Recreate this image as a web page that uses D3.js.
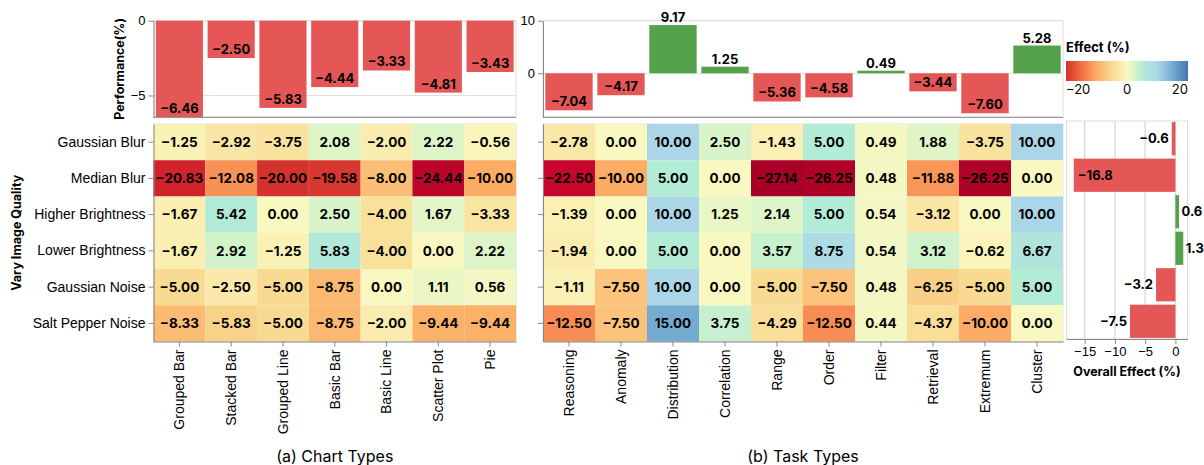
<!DOCTYPE html>
<html>
<head>
<meta charset="utf-8">
<script src="https://cdn.jsdelivr.net/npm/d3@7"></script>
<style>
  body { margin: 0; background: #fff; }
  svg { font-family: Inter, "Noto Sans", sans-serif; }
</style>
</head>
<body>
<svg id="chart" width="1204" height="465"></svg>
<script>
const chartTypes = ["Grouped Bar", "Stacked Bar", "Grouped Line", "Basic Bar", "Basic Line", "Scatter Plot", "Pie"];
const taskTypes = ["Reasoning", "Anomaly", "Distribution", "Correlation", "Range", "Order", "Filter", "Retrieval", "Extremum", "Cluster"];
const qualities = ["Gaussian Blur", "Median Blur", "Higher Brightness", "Lower Brightness", "Gaussian Noise", "Salt Pepper Noise"];

const chartPerf = [-6.46, -2.50, -5.83, -4.44, -3.33, -4.81, -3.43];
const taskPerf = [-7.04, -4.17, 9.17, 1.25, -5.36, -4.58, 0.49, -3.44, -7.60, 5.28];
const overallEffect = [-0.6, -16.8, 0.6, 1.3, -3.2, -7.5];

// rows = qualities, columns = chart types
const chartEffect = [
  [-1.25, -2.92, -3.75, 2.08, -2.00, 2.22, -0.56],
  [-20.83, -12.08, -20.00, -19.58, -8.00, -24.44, -10.00],
  [-1.67, 5.42, 0.00, 2.50, -4.00, 1.67, -3.33],
  [-1.67, 2.92, -1.25, 5.83, -4.00, 0.00, 2.22],
  [-5.00, -2.50, -5.00, -8.75, 0.00, 1.11, 0.56],
  [-8.33, -5.83, -5.00, -8.75, -2.00, -9.44, -9.44]
];
// rows = qualities, columns = task types
const taskEffect = [
  [-2.78, 0.00, 10.00, 2.50, -1.43, 5.00, 0.49, 1.88, -3.75, 10.00],
  [-22.50, -10.00, 5.00, 0.00, -27.14, -26.25, 0.48, -11.88, -26.25, 0.00],
  [-1.39, 0.00, 10.00, 1.25, 2.14, 5.00, 0.54, -3.12, 0.00, 10.00],
  [-1.94, 0.00, 5.00, 0.00, 3.57, 8.75, 0.54, 3.12, -0.62, 6.67],
  [-1.11, -7.50, 10.00, 0.00, -5.00, -7.50, 0.48, -6.25, -5.00, 5.00],
  [-12.50, -7.50, 15.00, 3.75, -4.29, -12.50, 0.44, -4.37, -10.00, 0.00]
];

const perfTicks = [-5, 0];
const taskTicks = [0, 10];
const overallTicks = [-15, -10, -5, 0];
const legendTicks = [-20, 0, 20];

const svg = d3.select("#chart");
const RED = "#e45756", GREEN = "#54a24b", GRID = "#ddd", AXIS = "#888";

const color = d3.scaleLinear()
  .domain([-27.5, -22.5, -20, -15, -10, -5, 0, 2.5, 5, 10, 15, 20, 25])
  .range(["#a50026", "#c8062b", "#d4322c", "#f16e43", "#fcac64", "#f9da92", "#faf8c1",
           "#d8f4c8", "#b3ecd6", "#abd6e8", "#75abd0", "#4a74b4", "#313695"])
  .clamp(true);

const f2 = d3.format(".2f"), f1 = d3.format(".1f");

const topY = [117.3, 20.7];
const heatY = [124, 341.5];

function styleAxis(g, size) {
  g.select(".domain").attr("stroke", AXIS);
  g.selectAll(".tick line").attr("stroke", AXIS);
  g.selectAll(".tick text").attr("fill", "#000").style("font-size", size + "px");
}

function frame(x0, x1, y0, y1) {
  svg.append("rect").attr("x", x0).attr("y", y0)
    .attr("width", x1 - x0).attr("height", y1 - y0)
    .attr("fill", "none").attr("stroke", GRID);
}

function topBars(cats, vals, domain, ticks, xr, title) {
  const x = d3.scaleBand().domain(cats).range(xr).paddingInner(0.09).paddingOuter(0.045);
  const y = d3.scaleLinear().domain(domain).range(topY);
  frame(xr[0], xr[1], topY[1], topY[0]);
  svg.append("g").selectAll("line").data(ticks).join("line")
    .attr("x1", xr[0]).attr("x2", xr[1])
    .attr("y1", d => y(d)).attr("y2", d => y(d))
    .attr("stroke", GRID);
  const g = svg.append("g");
  g.selectAll("rect").data(vals).join("rect")
    .attr("x", (d, i) => x(cats[i]))
    .attr("width", x.bandwidth())
    .attr("y", d => y(Math.max(0, d)))
    .attr("height", d => Math.abs(y(d) - y(0)))
    .attr("fill", d => d < 0 ? RED : GREEN);
  g.selectAll("text").data(vals).join("text")
    .attr("x", (d, i) => x(cats[i]) + x.bandwidth() / 2)
    .attr("y", d => d < 0 ? y(d) - 4 : y(d) - 3)
    .attr("text-anchor", "middle")
    .style("font-size", "13px").style("font-weight", "bold")
    .text(d => f2(d));
  svg.append("g").attr("transform", `translate(${xr[0]},0)`)
    .call(d3.axisLeft(y).tickValues(ticks).tickSize(5).tickSizeOuter(0).tickFormat(d3.format("d")))
    .call(g => styleAxis(g, 13));
  svg.append("line").attr("x1", xr[0]).attr("x2", xr[1])
    .attr("y1", topY[0]).attr("y2", topY[0]).attr("stroke", AXIS);
  if (title) {
    svg.append("text")
      .attr("transform", `translate(124,${(topY[0] + topY[1]) / 2}) rotate(-90)`)
      .attr("text-anchor", "middle")
      .style("font-size", "12.5px").style("font-weight", "bold")
      .text(title);
  }
}

function heatmap(cols, matrix, xr, showRows, caption) {
  const x = d3.scaleBand().domain(cols).range(xr);
  const y = d3.scaleBand().domain(qualities).range(heatY);
  const cells = [];
  matrix.forEach((row, r) => row.forEach((v, c) => cells.push({ q: qualities[r], c: cols[c], v })));
  frame(xr[0], xr[1], heatY[0], heatY[1]);
  const g = svg.append("g");
  g.selectAll("rect").data(cells).join("rect")
    .attr("x", d => x(d.c)).attr("y", d => y(d.q))
    .attr("width", x.bandwidth()).attr("height", y.bandwidth())
    .attr("fill", d => color(d.v));
  g.selectAll("text").data(cells).join("text")
    .attr("x", d => x(d.c) + x.bandwidth() / 2)
    .attr("y", d => y(d.q) + y.bandwidth() / 2)
    .attr("dy", "0.36em")
    .attr("text-anchor", "middle")
    .style("font-size", "13.5px").style("font-weight", "bold")
    .text(d => f2(d.v));

  const ya = d3.axisLeft(y).tickSize(5).tickSizeOuter(0).tickPadding(3);
  if (!showRows) ya.tickFormat("");
  svg.append("g").attr("transform", `translate(${xr[0]},0)`)
    .call(ya).call(g => styleAxis(g, 14));

  svg.append("g").attr("transform", `translate(0,${heatY[1]})`)
    .call(d3.axisBottom(x).tickSize(5).tickSizeOuter(0))
    .call(g => styleAxis(g, 14))
    .call(g => g.selectAll(".tick text")
      .attr("transform", "rotate(-90)")
      .attr("x", -8).attr("y", 0).attr("dy", "0.35em")
      .style("text-anchor", "end"));

  svg.append("text")
    .attr("x", (xr[0] + xr[1]) / 2).attr("y", 462)
    .attr("text-anchor", "middle")
    .style("font-size", "16px")
    .text(caption);
}

topBars(chartTypes, chartPerf, [-6.46, 0], perfTicks, [153.5, 516], "Performance(%)");
topBars(taskTypes, taskPerf, [-8.37, 10], taskTicks, [543, 1063], null);

heatmap(chartTypes, chartEffect, [153.5, 516], true, "(a) Chart Types");
heatmap(taskTypes, taskEffect, [543, 1063], false, "(b) Task Types");

svg.append("text")
  .attr("transform", `translate(21,${(heatY[0] + heatY[1]) / 2}) rotate(-90)`)
  .attr("text-anchor", "middle")
  .style("font-size", "12.5px").style("font-weight", "bold")
  .text("Vary Image Quality");

// overall effect bars
const ox = d3.scaleLinear().domain([-18, 2]).range([1066.5, 1187.5]);
const oy = d3.scaleBand().domain(qualities).range([121, 339]).paddingInner(0.09).paddingOuter(0.03);
frame(1066.5, 1187.5, 121, 339);
svg.append("g").selectAll("line").data(overallTicks).join("line")
  .attr("x1", d => ox(d)).attr("x2", d => ox(d))
  .attr("y1", 121).attr("y2", 339)
  .attr("stroke", GRID).attr("stroke-width", 1.5);
const og = svg.append("g");
og.selectAll("rect").data(overallEffect).join("rect")
  .attr("x", d => ox(Math.min(0, d)))
  .attr("width", d => Math.abs(ox(d) - ox(0)))
  .attr("y", (d, i) => oy(qualities[i]))
  .attr("height", oy.bandwidth())
  .attr("fill", d => d < 0 ? RED : GREEN);
const inside = d => d < 0 && ox(d) - ox.range()[0] < 40;
og.selectAll("text").data(overallEffect).join("text")
  .attr("y", (d, i) => oy(qualities[i]) + oy.bandwidth() / 2)
  .attr("dy", "0.36em")
  .attr("x", d => d >= 0 ? ox(d) + 2.5 : inside(d) ? ox(d) + 4 : ox(d) - 3)
  .attr("text-anchor", d => (d >= 0 || inside(d)) ? "start" : "end")
  .style("font-size", "13px").style("font-weight", "bold")
  .text(d => f1(d));
svg.append("g").attr("transform", "translate(0,339)")
  .call(d3.axisBottom(ox).tickValues(overallTicks).tickSize(5).tickSizeOuter(0).tickFormat(d3.format("d")))
  .call(g => styleAxis(g, 13));
svg.append("text")
  .attr("x", 1127).attr("y", 376)
  .attr("text-anchor", "middle")
  .style("font-size", "12.5px").style("font-weight", "bold")
  .text("Overall Effect (%)");

// legend
const lx = d3.scaleLinear().domain([-20, 20]).range([1066, 1188]);
const grad = svg.append("defs").append("linearGradient").attr("id", "effectGrad");
d3.range(0, 1.001, 0.05).forEach(t => {
  grad.append("stop").attr("offset", t).attr("stop-color", color(lx.invert(lx.range()[0] + t * 122)));
});
svg.append("text").attr("x", 1066).attr("y", 52)
  .style("font-size", "13px").style("font-weight", "bold")
  .text("Effect (%)");
svg.append("rect").attr("x", 1066).attr("y", 61).attr("width", 122).attr("height", 20)
  .attr("fill", "url(#effectGrad)");
svg.append("g").selectAll("text").data(legendTicks).join("text")
  .attr("x", d => lx(d)).attr("y", 94)
  .attr("text-anchor", (d, i) => i === 0 ? "start" : i === legendTicks.length - 1 ? "end" : "middle")
  .style("font-size", "13px")
  .text(d => d3.format("d")(d));
</script>
</body>
</html>
